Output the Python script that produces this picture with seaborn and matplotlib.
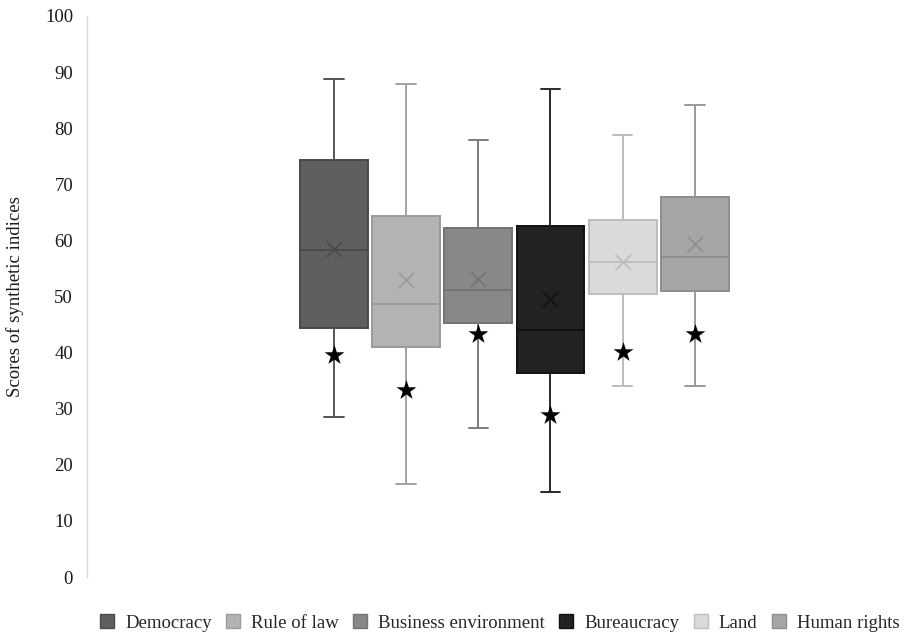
import numpy as np
import pandas as pd
import matplotlib
matplotlib.use("Agg")
import matplotlib.pyplot as plt
from matplotlib.patches import Patch
import seaborn as sns

# Synthetic indices and their five-number summaries (min, Q1, median, Q3, max)
indices = ["Democracy", "Rule of law", "Business environment",
           "Bureaucracy", "Land", "Human rights"]
whisker_low = [28.6, 16.5, 26.6, 15.2, 34.1, 34.0]
q1 = [44.4, 41.0, 45.2, 36.4, 50.4, 50.9]
median = [58.2, 48.7, 51.2, 44.0, 56.1, 57.1]
q3 = [74.3, 64.3, 62.2, 62.5, 63.6, 67.7]
whisker_high = [88.7, 87.8, 77.9, 86.9, 78.8, 84.1]
mean = [58.4, 52.9, 53.2, 49.5, 56.2, 59.4]
# Reference score marked with a star for each index
star_score = [39.6, 33.3, 43.4, 28.8, 40.1, 43.4]
yticks = list(range(0, 101, 10))

fills = ["#5f5f5f", "#b3b3b3", "#888888", "#222222", "#dadada", "#a6a6a6"]
edges = ["#4a4a4a", "#9a9a9a", "#737373", "#111111", "#bdbdbd", "#8e8e8e"]
whisk = ["#555555", "#a3a3a3", "#7c7c7c", "#2a2a2a", "#bcbcbc", "#999999"]

rows = []
for name, lo, a, m, b, hi in zip(indices, whisker_low, q1, median, q3, whisker_high):
    for v in (lo, a, m, b, hi):
        rows.append({"index": name, "score": v})
df = pd.DataFrame(rows)

sns.set_theme(style="white")
plt.rcParams["font.family"] = ["Liberation Serif", "DejaVu Serif"]

fig = plt.figure(figsize=(9.12, 6.37), dpi=100)
ax = fig.add_axes([87 / 912, 1 - 577 / 637, 823 / 912, (577 - 16) / 637])

for i, name in enumerate(indices):
    sub = df[df["index"] == name]
    sns.boxplot(data=sub, x="index", y="score", order=indices, ax=ax,
                color=fills[i], linecolor=edges[i], saturation=1,
                width=0.94, whis=np.inf, linewidth=1.4,
                whiskerprops={"color": whisk[i], "linewidth": 1.4},
                capprops={"color": whisk[i], "linewidth": 1.4},
                medianprops={"color": edges[i], "linewidth": 1.4},
                boxprops={"edgecolor": edges[i]},
                capwidths=0.27)

mean_df = pd.DataFrame({"index": indices, "score": mean})
sns.stripplot(data=mean_df, x="index", y="score", order=indices, hue="index",
              palette=edges, marker="x", s=11, linewidth=1.2, jitter=False,
              legend=False, ax=ax, zorder=5)

star_df = pd.DataFrame({"index": indices, "score": star_score})
sns.stripplot(data=star_df, x="index", y="score", order=indices, color="black",
              marker="*", s=15, jitter=False, legend=False, ax=ax, zorder=6)

ax.set_xlim(-3.42, 7.98)
ax.set_ylim(0, 100)
ax.set_yticks(yticks)
ax.set_yticklabels([str(t) for t in yticks], fontsize=13.5, color="#1a1a1a")
ax.set_xticks([])
ax.set_xlabel("")
ax.set_ylabel("Scores of synthetic indices", fontsize=13.5, color="#1a1a1a", labelpad=15)
ax.tick_params(axis="y", length=0, pad=10)
for side in ("top", "right", "bottom"):
    ax.spines[side].set_visible(False)
ax.spines["left"].set_color("#d9d9d9")
ax.spines["left"].set_linewidth(1.0)

handles = [Patch(facecolor=f, edgecolor=e, linewidth=1.0) for f, e in zip(fills, edges)]
fig.legend(handles, indices, loc="center", bbox_to_anchor=(0.548, 1 - 623 / 637),
           ncol=6, frameon=False, fontsize=13.5, handlelength=0.75, handleheight=0.75,
           handletextpad=0.6, columnspacing=0.75)

fig.savefig("out.png", dpi=100)
